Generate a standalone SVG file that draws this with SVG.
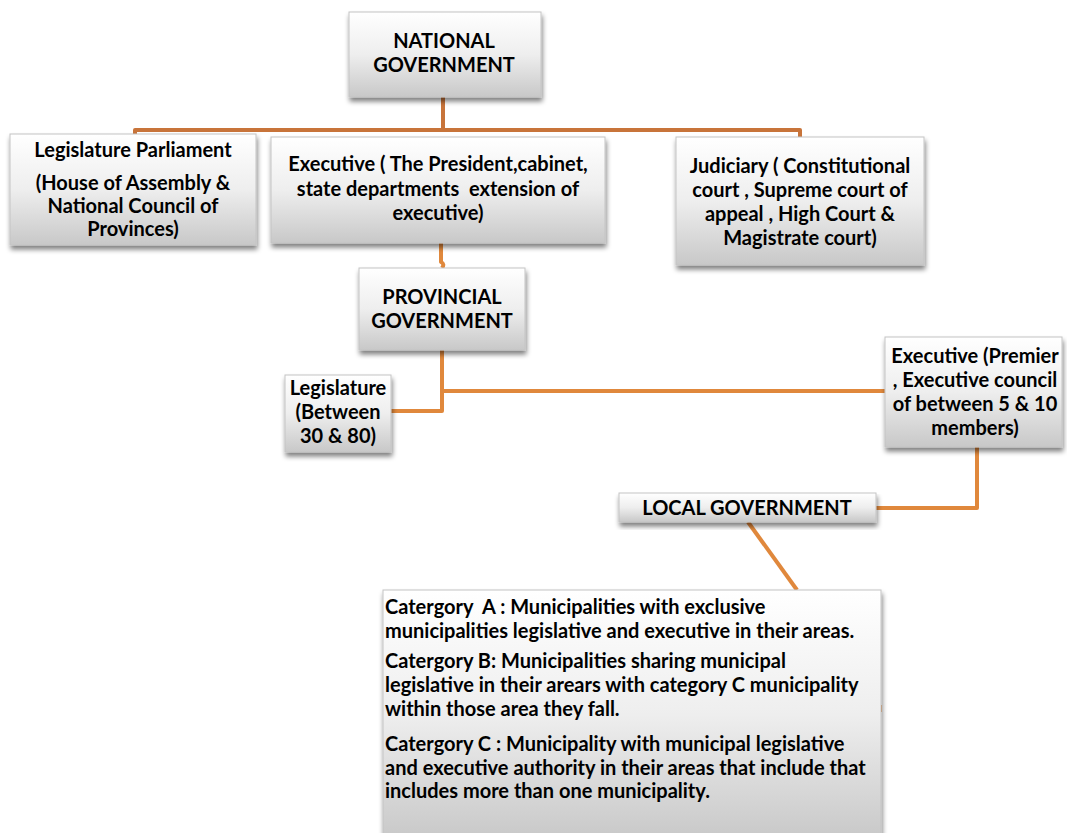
<svg xmlns="http://www.w3.org/2000/svg" width="1067" height="833" viewBox="0 0 1067 833">
  <style>
    .box { fill: url(#boxFill); stroke: #c4c4c4; stroke-width: 1; filter: url(#shadow); }
    .t { font-family: Lato, "Open Sans", "Liberation Sans", sans-serif; font-weight: bold; font-size: 20px; fill: #000; }
    .c { text-anchor: middle; }
    .link { fill: none; stroke: #e0883c; stroke-width: 4; stroke-linejoin: round; }
    .link.top { stroke: #c8743a; }
  </style>
  <defs>
    <linearGradient id="boxFill" x1="0" y1="0" x2="0" y2="1">
      <stop offset="0" stop-color="#ffffff"/>
      <stop offset="0.5" stop-color="#eeeeee"/>
      <stop offset="1" stop-color="#c8c8c8"/>
    </linearGradient>
    <filter id="shadow" x="-10%" y="-10%" width="125%" height="135%">
      <feGaussianBlur in="SourceAlpha" stdDeviation="2.5"/>
      <feOffset dx="1" dy="4" result="b"/>
      <feComponentTransfer><feFuncA type="linear" slope="0.5"/></feComponentTransfer>
      <feMerge><feMergeNode/><feMergeNode in="SourceGraphic"/></feMerge>
    </filter>
  </defs>
  <rect width="1067" height="833" fill="#ffffff"/>

  <g id="connectors">
    <path class="link top" d="M443 97 V130 M135 136 V130 H800 V137"/>
    <path class="link" d="M441 243 V262 Q445 264 442 268"/>
    <path class="link" d="M442 350 V411 H391 M442 391 H885"/>
    <path class="link" d="M977 447 V508 H876"/>
    <path class="link" d="M748 522 L797 590"/>
    <path class="link" d="M880 705 V712" stroke-width="2"/>
  </g>

  <g id="national">
    <rect class="box" x="349" y="12" width="192" height="85"/>
    <text class="t c" x="444" y="48">NATIONAL</text>
    <text class="t c" x="444" y="72">GOVERNMENT</text>
  </g>

  <g id="legislature-parliament">
    <rect class="box" x="10" y="134" width="246" height="111"/>
    <text class="t c" x="133" y="157">Legislature Parliament</text>
    <text class="t c" x="133" y="190">(House of Assembly &amp;</text>
    <text class="t c" x="133" y="213">National Council of</text>
    <text class="t c" x="133" y="236">Provinces)</text>
  </g>

  <g id="national-executive">
    <rect class="box" x="271" y="137" width="334" height="106"/>
    <text class="t c" x="438" y="171">Executive ( The President,cabinet,</text>
    <text class="t c" x="438" y="196" xml:space="preserve">state departments  extension of</text>
    <text class="t c" x="438" y="220">executive)</text>
  </g>

  <g id="judiciary">
    <rect class="box" x="676" y="137" width="248" height="128"/>
    <text class="t c" x="800" y="173">Judiciary ( Constitutional</text>
    <text class="t c" x="800" y="197">court , Supreme court of</text>
    <text class="t c" x="800" y="221">appeal , High Court &amp;</text>
    <text class="t c" x="800" y="245">Magistrate court)</text>
  </g>

  <g id="provincial">
    <rect class="box" x="359" y="268" width="166" height="82"/>
    <text class="t c" x="442" y="304">PROVINCIAL</text>
    <text class="t c" x="442" y="328">GOVERNMENT</text>
  </g>

  <g id="provincial-legislature">
    <rect class="box" x="285" y="375" width="106" height="77"/>
    <text class="t c" x="338" y="395">Legislature</text>
    <text class="t c" x="338" y="419">(Between</text>
    <text class="t c" x="338" y="443">30 &amp; 80)</text>
  </g>

  <g id="provincial-executive">
    <rect class="box" x="885" y="337" width="177" height="110"/>
    <text class="t c" x="975" y="363">Executive (Premier</text>
    <text class="t c" x="975" y="387">, Executive council</text>
    <text class="t c" x="975" y="411">of between 5 &amp; 10</text>
    <text class="t c" x="975" y="435">members)</text>
  </g>

  <g id="local">
    <rect class="box" x="619" y="493" width="257" height="29"/>
    <text class="t c" x="747" y="515">LOCAL GOVERNMENT</text>
  </g>

  <g id="categories">
    <rect class="box" x="383" y="590" width="498" height="250"/>
    <text class="t" x="385" y="614" xml:space="preserve">Catergory  A : Municipalities with exclusive</text>
    <text class="t" x="385" y="638">municipalities legislative and executive in their areas.</text>
    <text class="t" x="385" y="668">Catergory B: Municipalities sharing municipal</text>
    <text class="t" x="385" y="692">legislative in their arears with category C municipality</text>
    <text class="t" x="385" y="716">within those area they fall.</text>
    <text class="t" x="385" y="751">Catergory C : Municipality with municipal legislative</text>
    <text class="t" x="385" y="775">and executive authority in their areas that include that</text>
    <text class="t" x="385" y="798">includes more than one municipality.</text>
  </g>
</svg>
